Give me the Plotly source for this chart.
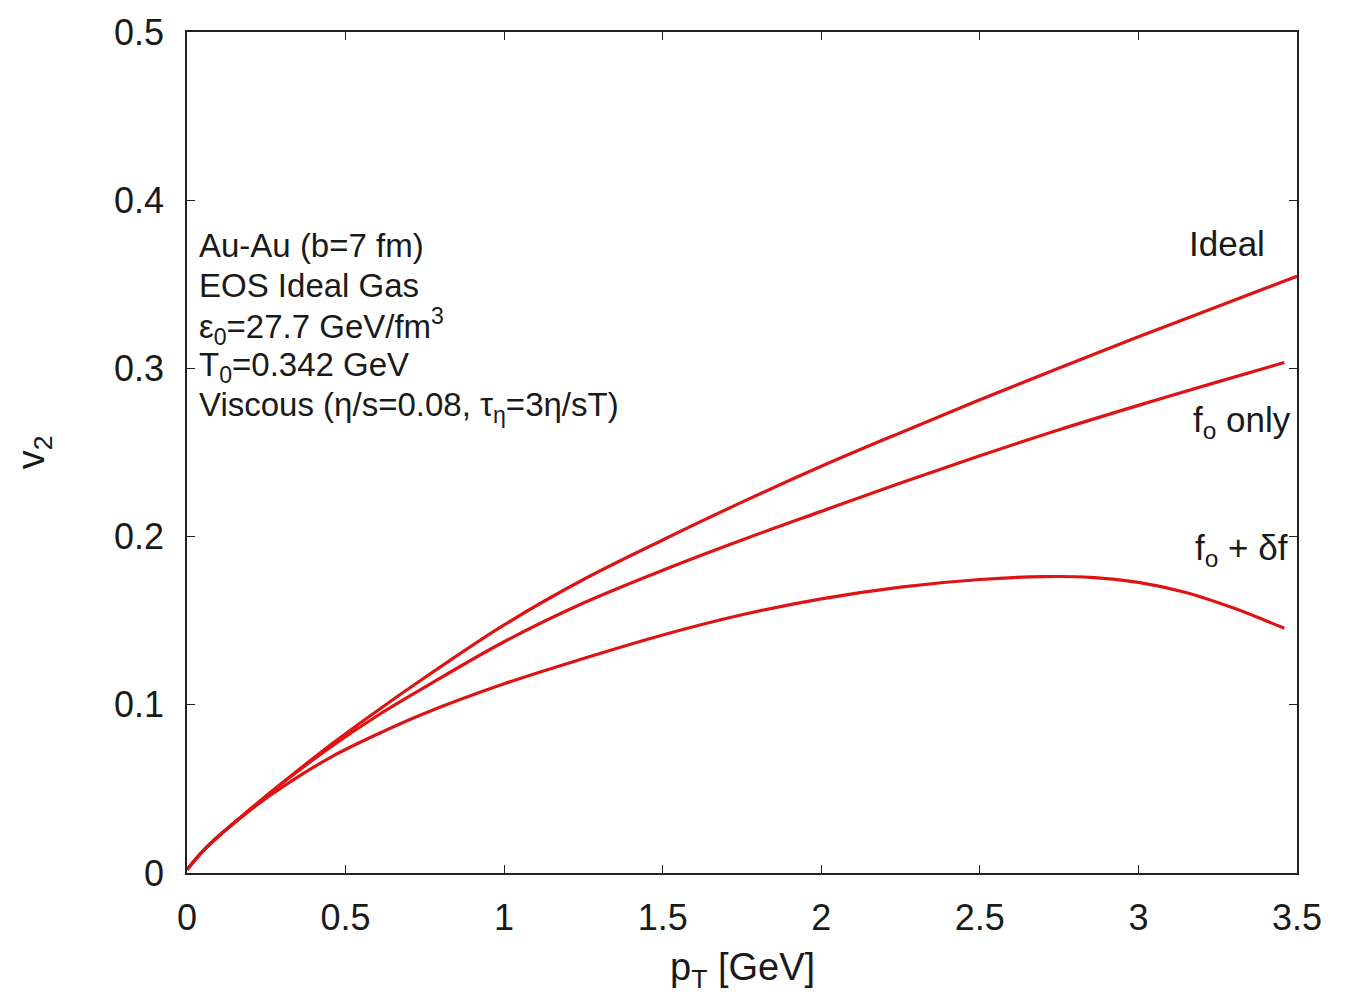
import plotly.graph_objects as go

# pT values (GeV) and v2 values
pt_ideal = [0.0, 0.05, 0.1, 0.2, 0.3, 0.45, 0.6, 0.75, 1.0, 1.25, 1.5, 1.75, 2.0, 2.25, 2.5, 2.75, 3.0, 3.25, 3.5]
v2_ideal = [0.002, 0.013, 0.022, 0.038, 0.0535, 0.0758, 0.0965, 0.1162, 0.1475, 0.1745, 0.198, 0.2205, 0.2418, 0.2618, 0.2813, 0.3003, 0.3188, 0.3368, 0.3548]

pt_f0 = [0.0, 0.05, 0.1, 0.2, 0.3, 0.45, 0.6, 0.75, 1.0, 1.25, 1.5, 1.75, 2.0, 2.25, 2.5, 2.75, 3.0, 3.25, 3.46]
v2_f0 = [0.002, 0.013, 0.022, 0.038, 0.0533, 0.0745, 0.0935, 0.1105, 0.1375, 0.1605, 0.180, 0.198, 0.215, 0.2318, 0.248, 0.2635, 0.278, 0.292, 0.3035]

pt_df = [0.0, 0.05, 0.1, 0.2, 0.3, 0.45, 0.6, 0.75, 1.0, 1.25, 1.5, 1.75, 2.0, 2.25, 2.5, 2.7, 2.85, 3.0, 3.15, 3.3, 3.46]
v2_df = [0.002, 0.013, 0.022, 0.0375, 0.051, 0.0685, 0.0825, 0.095, 0.1125, 0.1275, 0.1415, 0.1535, 0.163, 0.170, 0.1745, 0.1762, 0.1758, 0.1728, 0.1668, 0.1575, 0.1455]

info_lines = [
    "Au-Au (b=7 fm)",
    "EOS Ideal Gas",
    "ε<sub>0</sub>=27.7 GeV/fm<sup>3</sup>",
    "T<sub>0</sub>=0.342 GeV",
    "Viscous (η/s=0.08, τ<sub>η</sub>=3η/sT)",
]
info_y = [0.373, 0.349, 0.325, 0.301, 0.277]

curve_labels = ["Ideal", "f<sub>o</sub> only", "f<sub>o</sub> + δf"]
label_x = [3.28, 3.488, 3.478]
label_y = [0.374, 0.268, 0.192]

RED = "#de1414"
FONT = "Liberation Sans, Arial, sans-serif"
TXT = "#1a1a1a"

fig = go.Figure()
for xs, ys in [(pt_ideal, v2_ideal), (pt_f0, v2_f0), (pt_df, v2_df)]:
    fig.add_trace(go.Scatter(x=xs, y=ys, mode="lines",
                             line=dict(color=RED, width=3.2, shape="spline", smoothing=1.0),
                             showlegend=False, hoverinfo="skip"))

for txt, yy in zip(info_lines, info_y):
    fig.add_annotation(x=0.03, y=yy, xref="x", yref="y", text=txt, showarrow=False,
                       xanchor="left", yanchor="middle",
                       font=dict(family=FONT, size=33, color=TXT))

for i, (txt, xx, yy) in enumerate(zip(curve_labels, label_x, label_y)):
    fig.add_annotation(x=xx, y=yy, xref="x", yref="y", text=txt, showarrow=False,
                       xanchor="center" if i == 0 else "right", yanchor="middle",
                       font=dict(family=FONT, size=35, color=TXT))

# axis titles
fig.add_annotation(x=0.5, y=-0.115, xref="paper", yref="paper", text="p<sub>T</sub> [GeV]",
                   showarrow=False, xanchor="center", yanchor="middle",
                   font=dict(family=FONT, size=38, color=TXT))
fig.add_annotation(x=-0.138, y=0.5, xref="paper", yref="paper", text="v<sub>2</sub>",
                   showarrow=False, xanchor="center", yanchor="middle", textangle=-90,
                   font=dict(family=FONT, size=38, color=TXT))

axis_common = dict(showline=True, linecolor="#222", linewidth=1.5, mirror="allticks",
                   ticks="inside", ticklen=8, tickcolor="#222", tickwidth=1.2,
                   showgrid=False, zeroline=False,
                   tickfont=dict(family=FONT, size=36, color=TXT))

fig.update_xaxes(range=[0, 3.5], tick0=0, dtick=0.5, ticklabelstandoff=12, **axis_common)
fig.update_yaxes(range=[0, 0.5], tick0=0, dtick=0.1, ticklabelstandoff=14, **axis_common)

fig.update_layout(width=1353, height=997, margin=dict(l=187, r=56, t=22, b=124),
                  plot_bgcolor="white", paper_bgcolor="white")

fig.write_html("out.html")
